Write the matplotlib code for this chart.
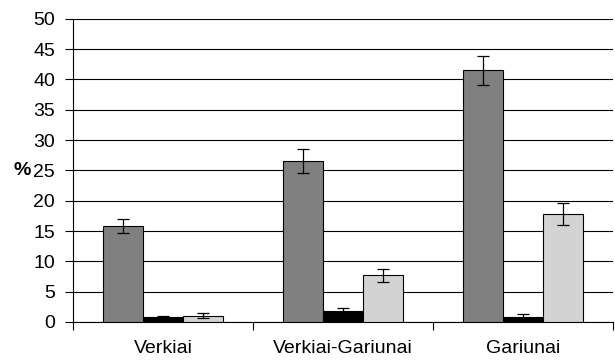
import matplotlib
matplotlib.use('Agg')
import matplotlib.pyplot as plt
import numpy as np

plt.rcParams['font.family'] = ['Liberation Sans', 'DejaVu Sans']

categories = ['Verkiai', 'Verkiai-Gariunai', 'Gariunai']
dark_vals = [15.8, 26.6, 41.5]
dark_err = [1.2, 2.0, 2.4]
black_vals = [0.8, 1.8, 0.8]
black_err = [0.2, 0.5, 0.5]
light_vals = [1.0, 7.7, 17.8]
light_err = [0.4, 1.1, 1.8]

fig = plt.figure(figsize=(6.15, 3.63), dpi=100)
ax = fig.add_axes([0.119, 0.113, 0.878, 0.835])

x = np.arange(len(categories))
w = 0.222
ekw = dict(ecolor='black', capsize=4, elinewidth=0.9, capthick=0.9)
ax.bar(x - w, dark_vals, w, yerr=dark_err, color='#808080', edgecolor='black', linewidth=0.8, error_kw=ekw, zorder=3)
ax.bar(x, black_vals, w, yerr=black_err, color='black', edgecolor='black', linewidth=0.8, error_kw=ekw, zorder=3)
ax.bar(x + w, light_vals, w, yerr=light_err, color='#d3d3d3', edgecolor='black', linewidth=0.8, error_kw=ekw, zorder=3)

ax.set_xlim(-0.5, 2.5)
ax.set_ylim(0, 50)
ax.set_yticks(np.arange(0, 51, 5))
ax.yaxis.grid(True, color='black', linewidth=0.8, zorder=0)
ax.set_axisbelow(True)

ax.set_xticks(x)
ax.set_xticklabels(categories, fontsize=14)
ax.tick_params(axis='x', which='major', length=0, pad=13)
ax.set_xticks([-0.5, 0.5, 1.5, 2.5], minor=True)
ax.tick_params(axis='x', which='minor', length=6, width=0.8, direction='out')
ax.tick_params(axis='y', labelsize=14, length=6, width=0.8, pad=7)

for s in ['top', 'right']:
    ax.spines[s].set_visible(False)
for s in ['left', 'bottom']:
    ax.spines[s].set_linewidth(0.8)

ax.set_ylabel('%', rotation=0, fontsize=14, fontweight='bold', va='center', ha='right')
ax.yaxis.set_label_coords(-0.078, 0.5)

fig.savefig('out.png', dpi=100)
